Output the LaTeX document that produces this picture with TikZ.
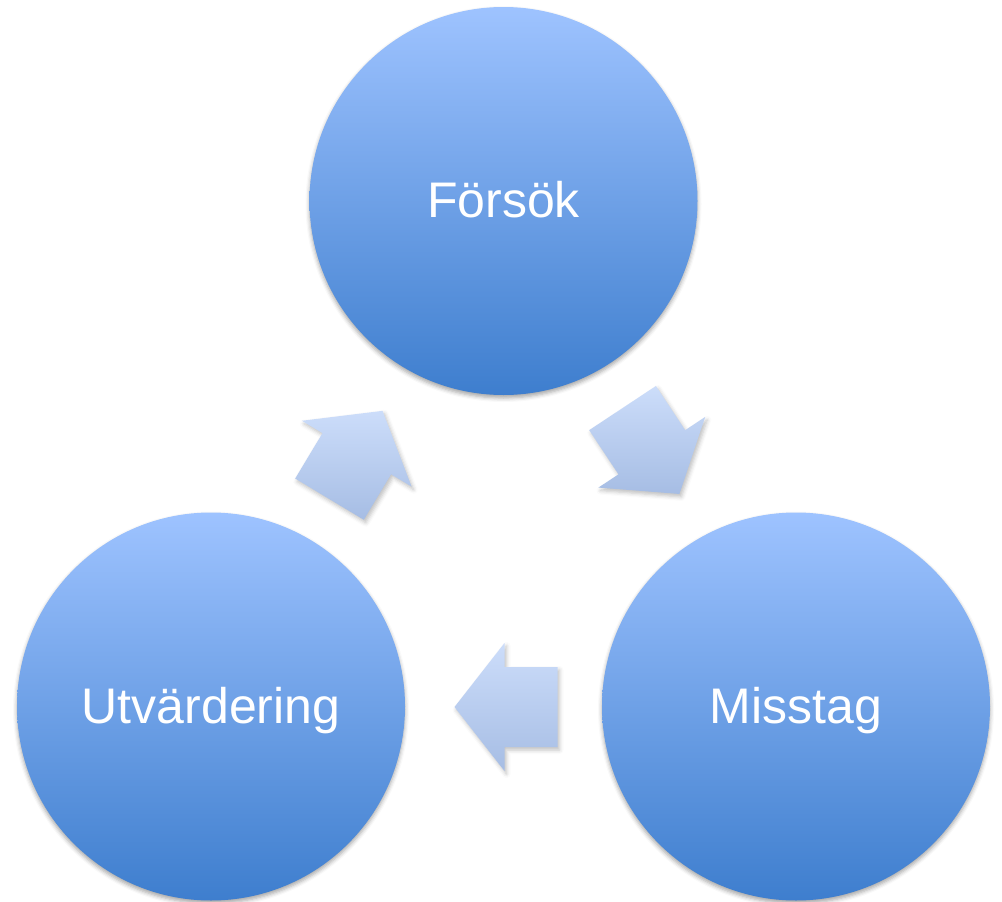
\documentclass[tikz,border=0pt]{standalone}
\usepackage{fontspec}
\setmainfont{Liberation Sans}
\usetikzlibrary{shadows.blur}
\definecolor{ctop}{RGB}{158,195,255}
\definecolor{cbot}{RGB}{62,126,206}
\definecolor{atop}{RGB}{204,221,250}
\definecolor{abot}{RGB}{166,189,228}
\tikzset{
  bubble/.style={circle, minimum size=388pt, inner sep=0pt,
    top color=ctop, bottom color=cbot,
    blur shadow={shadow xshift=0pt, shadow yshift=-3pt, shadow blur radius=4pt, shadow opacity=35}},
  lbl/.style={anchor=base, text=white, font=\fontsize{50}{58}\selectfont},
  blockarrow/.style={top color=atop, bottom color=abot,
    blur shadow={shadow xshift=2pt, shadow yshift=-3pt, shadow blur radius=4pt, shadow opacity=25}}
}
\newcommand{\blockarr}[4]{%
  \begin{scope}[shift={#1}, rotate=#2]
    \coordinate (#3) at (0,0);
    \path[blockarrow, shading angle=#4] (-51.5,-40) -- (1.5,-40) -- (1.5,-64) -- (51.5,0)
      -- (1.5,64) -- (1.5,40) -- (-51.5,40) -- cycle;
  \end{scope}}
\begin{document}
\begin{tikzpicture}[x=1pt, y=-1pt]
\path[use as bounding box] (0,0) rectangle (1002,902);
\node[bubble] (fs) at (503.5,201) {};
\node[bubble] (ut) at (211,706.5) {};
\node[bubble] (mi) at (796,706.5) {};
\node[lbl] at (503.5,217.5) {Försök};
\node[lbl] at (211,723) {Utvärdering};
\node[lbl] at (796,723) {Misstag};
\blockarr{(356,455)}{59}{a1}{0}
\blockarr{(651,451)}{-56.5}{a2}{0}
\blockarr{(506,707)}{180}{a3}{0}
\end{tikzpicture}
\end{document}
